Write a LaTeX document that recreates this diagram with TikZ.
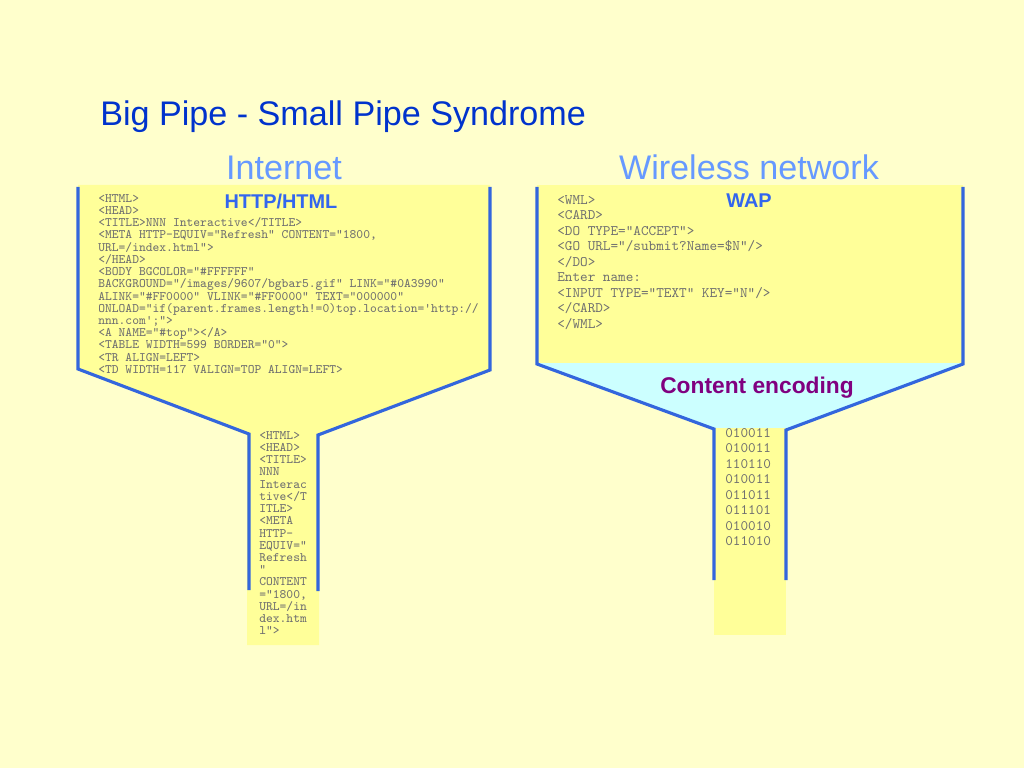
\documentclass[tikz,border=0pt]{standalone}
\usepackage{fontspec}
\setmainfont{Liberation Sans}
\usetikzlibrary{positioning}
\definecolor{slidebg}{HTML}{FFFFCC}
\definecolor{pipefill}{HTML}{FFFF99}
\definecolor{encfill}{HTML}{CCFFFF}
\definecolor{pipeblue}{HTML}{3366DD}
\definecolor{titleblue}{HTML}{0033CC}
\definecolor{netblue}{HTML}{6699FF}
\definecolor{protoblue}{HTML}{3366EE}
\definecolor{encpurple}{HTML}{800080}
\definecolor{codegray}{HTML}{707070}
\tikzset{
  pipe/.style={draw=pipeblue, line width=2.2pt, line join=miter},
  netlabel/.style={anchor=base, inner sep=0pt, text=netblue, font=\fontsize{24}{28}\selectfont},
  protolabel/.style={anchor=base, inner sep=0pt, text=protoblue, font=\bfseries\fontsize{14}{16}\selectfont},
  code/.style={anchor=north west, inner sep=0pt, align=left, text=codegray, font=\fontsize{9.1}{8.6}\selectfont\ttfamily},
  bigcode/.style={code, font=\fontsize{10.2}{10.9}\selectfont\ttfamily}
}

\begin{document}
\begin{tikzpicture}[x=0.703125pt, y=-0.703125pt]
\useasboundingbox (0,0) rectangle (1024,768);
\fill[slidebg] (0,0) rectangle (1024,768);
% left funnel: Internet
\fill[pipefill] (78,185) -- (490,185) -- (490,370) -- (319,435) -- (319,645)
  -- (247,645) -- (247,435) -- (78,369) -- cycle;
% right funnel: wireless network
\fill[pipefill] (537,185) rectangle (963,363);
\fill[encfill] (537,363) -- (963,363) -- (786,430) -- (714,430) -- cycle;
\fill[pipefill] (714,428) rectangle (786,635);
\draw[pipe] (78,187) -- (78,369) -- (249,434) -- (249,590);
\draw[pipe] (490,187) -- (490,370) -- (318,435) -- (318,591);
\draw[pipe] (537,187) -- (537,364) -- (714,429) -- (714,580);
\draw[pipe] (963,187) -- (963,364) -- (786,430) -- (786,580);
\node[anchor=base west, inner sep=0pt, text=titleblue, font=\fontsize{24}{28}\selectfont] (title) at (100,126) {Big Pipe - Small Pipe Syndrome};
\node[netlabel] (inet) at (284,180) {Internet};
\node[netlabel] (wless) at (749,180) {Wireless network};
\node[protolabel] (http) at (281,209) {HTTP/HTML};
\node[protolabel] (wap) at (749,208) {WAP};
\node[anchor=base, inner sep=0pt, text=encpurple, font=\bfseries\fontsize{16}{19}\selectfont] (enc) at (757,393) {Content encoding};
\node[code] (htmlbig) at (98,194) {<HTML>\\<HEAD>\\<TITLE>NNN Interactive</TITLE>\\
<META HTTP-EQUIV="Refresh" CONTENT="1800,\\URL=/index.html">\\</HEAD>\\
<BODY BGCOLOR="\#FFFFFF"\\BACKGROUND="/images/9607/bgbar5.gif" LINK="\#0A3990"\\
ALINK="\#FF0000" VLINK="\#FF0000" TEXT="000000"\\
ONLOAD="if(parent.frames.length!=0)top.location='http://\\nnn.com';">\\
<A NAME="\#top"></A>\\<TABLE WIDTH=599 BORDER="0">\\<TR ALIGN=LEFT>\\
<TD WIDTH=117 VALIGN=TOP ALIGN=LEFT>};
\node[code] (htmlsmall) at (259,431) {<HTML>\\<HEAD>\\<TITLE>\\NNN\\Interac\\tive</T\\ITLE>\\
<META\\HTTP-\\EQUIV="\\Refresh\\"\\CONTENT\\="1800,\\URL=/in\\dex.htm\\l">};
\node[bigcode] (wml) at (557,195) {<WML>\\<CARD>\\<DO TYPE="ACCEPT">\\<GO URL="/submit?Name=\$N"/>\\
</DO>\\Enter name:\\<INPUT TYPE="TEXT" KEY="N"/>\\</CARD>\\</WML>};
\node[bigcode] (bits) at (725,428) {010011\\010011\\110110\\010011\\011011\\011101\\010010\\011010};
\end{tikzpicture}
\end{document}
